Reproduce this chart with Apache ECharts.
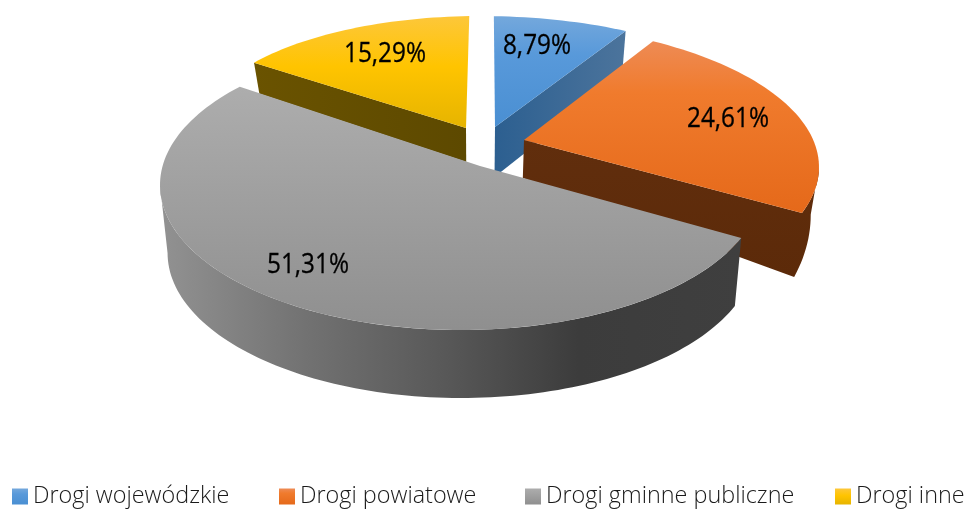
<!DOCTYPE html>
<html>
<head>
<meta charset="utf-8">
<style>html,body{margin:0;padding:0;background:#fff}#c{width:967px;height:509px}</style>
<script src="https://cdn.jsdelivr.net/npm/echarts@6/dist/echarts.min.js"></script>
</head>
<body>
<div id="c"></div>
<script>
var categories = ['Drogi wojewódzkie', 'Drogi powiatowe', 'Drogi gminne publiczne', 'Drogi inne'];
var values = [8.79, 24.61, 51.31, 15.29];
var FONT = '"Open Sans"';

// Projection of each exploded slice of the tilted disc (the slice sweep comes from its value).
var slices = [
  {apex:[495,127], c:[480,130], r:[294,114], start:2.7,   k:0.853, d0:50, d1:0.05,  edge:'end',   apexWall:true,  arcTo:null,
   label:[537,46],  legendX:12,
   top:[[0,'#74a8dc'],[0.35,'#5899da'],[1,'#4a8fd2']],
   wall:{x:1,y:0,stops:[[0,'#2c5f90'],[1,'#4c749c']]}},
  {apex:[524,140], c:[489,167], r:[330,145], start:29.8,  k:0.888, d0:38, d1:0.356, edge:'end',   apexWall:true,  arcTo:90,
   label:[728,119], legendX:279,
   top:[[0,'#ee8b55'],[0.3,'#f07b2d'],[1,'#e5691a']],
   wall:{x:0,y:1,stops:[[0,'#612e0d'],[1,'#5c2a09']]}},
  {apex:[480,166], c:[461,185], r:[301,145], start:111.4, k:1.0898, d0:68, d1:0,    edge:'start', apexWall:false, arcTo:270,
   label:[308,265], legendX:525,
   top:[[0,'#adadad'],[1,'#8f8f8f']],
   wall:{x:1,y:0,stops:[[0,'#929292'],[0.25,'#727272'],[0.5,'#575757'],[0.72,'#3c3c3c'],[1,'#3f3f3f']]}},
  {apex:[466,128], c:[480,130], r:[280,114], start:-53.8, k:0.9375, d0:34, d1:0.045, edge:'start', apexWall:true,  arcTo:null,
   label:[385,54],  legendX:835,
   top:[[0,'#fdc73a'],[0.45,'#ffc400'],[1,'#e6b400']],
   wall:{x:1,y:0,stops:[[0,'#6a5300'],[1,'#5d4900']]}}
];
var zOrder = [1, 2, 4, 1];
var CONVERGE = 0.024, CONVERGE_X = 475;

function grad(x, y, stops) {
  return new echarts.graphic.LinearGradient(0, 0, x, y, stops.map(function (s) {
    return {offset: s[0], color: s[1]};
  }));
}
function rimPoint(s, deg) {
  var t = deg * Math.PI / 180;
  return [s.c[0] + s.r[0] * Math.sin(t), s.c[1] - s.r[1] * Math.cos(t)];
}
function lower(s, p) {
  return [p[0] - (p[0] - CONVERGE_X) * CONVERGE, p[1] + s.d0 + s.d1 * (p[1] - s.apex[1])];
}
function arc(s, from, to) {
  var pts = [], n = Math.max(2, Math.ceil(Math.abs(to - from) / 1.5));
  for (var i = 0; i <= n; i++) pts.push(rimPoint(s, from + (to - from) * i / n));
  return pts;
}
function renderSlice(index) {
  return function (params, api) {
    var s = slices[index], v = api.value(0);
    var a0 = s.start, a1 = s.start + v * 3.6 * s.k;
    var edgeAngle = s.edge === 'end' ? a1 : a0;
    var upper = s.arcTo === null ? [rimPoint(s, edgeAngle)] : arc(s, edgeAngle, s.arcTo);
    if (s.apexWall) upper = [s.apex].concat(upper);
    var wallPts = upper.concat(upper.map(function (p) { return lower(s, p); }).reverse());
    var topPts = [s.apex].concat(arc(s, a0, a1));
    return {
      type: 'group',
      children: [
        {type: 'polygon', shape: {points: wallPts}, style: {fill: grad(s.wall.x, s.wall.y, s.wall.stops)}},
        {type: 'polygon', shape: {points: topPts}, style: {fill: grad(0, 1, s.top)}},
        {type: 'text', z2: 10, x: s.label[0], y: s.label[1], scaleX: 0.9, style: {
          text: v.toFixed(2).replace('.', ',') + '%',
          font: '27px ' + FONT, fill: '#000', stroke: '#000', lineWidth: 0.3, align: 'center', verticalAlign: 'middle'
        }}
      ]
    };
  };
}

var chart = echarts.init(document.getElementById('c'), null, {renderer: 'canvas'});
chart.setOption({
  animation: false,
  backgroundColor: '#fff',
  legend: categories.map(function (name, i) {
    return {
      data: [name], left: slices[i].legendX, top: 485,
      itemWidth: 16, itemHeight: 16, itemGap: 0, padding: 0, icon: 'rect',
      textStyle: {fontFamily: FONT, fontSize: 23.4, fontWeight: 300, color: '#1a1a1a', padding: [0, 0, 0, 0]},
      selectedMode: false
    };
  }),
  series: categories.map(function (name, i) {
    return {
      type: 'custom', name: name, coordinateSystem: 'none', z: zOrder[i],
      silent: true,
      itemStyle: {color: grad(0, 1, slices[i].top)},
      renderItem: renderSlice(i),
      data: [[values[i]]]
    };
  })
});
</script>
</body>
</html>
